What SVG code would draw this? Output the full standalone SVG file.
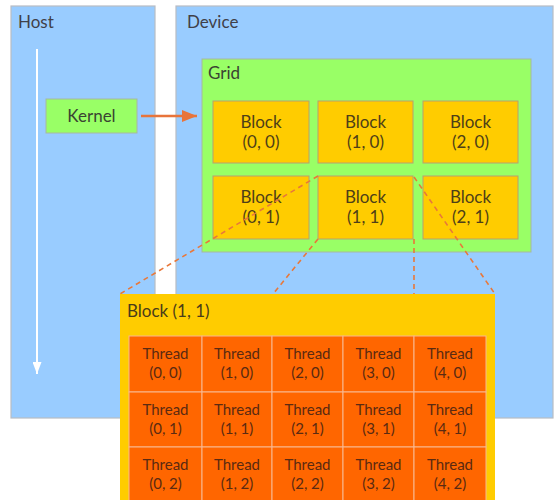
<svg xmlns="http://www.w3.org/2000/svg" width="560" height="500" viewBox="0 0 560 500">
<defs>
<style>
.panel{fill:#99CCFF;stroke:#B8BCC4;stroke-width:1.2}
.grid{fill:#99FF66;stroke:#A8B8A0;stroke-width:1}
.blk{fill:#FFCC00;stroke:#B8A070;stroke-width:1}
.thr{fill:#FF6600;stroke:#F8B890;stroke-width:1}
.lbl{font-family:Lato,"Open Sans",sans-serif;font-size:17px;fill:#404048}
.bt{font-family:Lato,"Open Sans",sans-serif;font-size:17px;fill:#4E3F18;text-anchor:middle}
.tt{font-family:Lato,"Open Sans",sans-serif;font-size:15px;fill:#5A2A12;text-anchor:middle}
.dash{stroke:#E8783A;stroke-width:1.6;stroke-dasharray:5 4;fill:none}
</style>
<marker id="ah" viewBox="0 0 15 12" refX="15" refY="6" markerWidth="15" markerHeight="12" markerUnits="userSpaceOnUse" orient="auto">
<path d="M0,0 L15,6 L0,12 z" fill="#E8743B"/>
</marker>
<marker id="wh" viewBox="0 0 12 9" refX="12" refY="4.5" markerWidth="12" markerHeight="9" markerUnits="userSpaceOnUse" orient="auto">
<path d="M0,0 L12,4.5 L0,9 z" fill="#FFFFFF"/>
</marker>
</defs>
<rect width="560" height="500" fill="#FFFFFF"/>
<g id="host">
<rect class="panel" x="11" y="6" width="144" height="412"/>
<text class="lbl" x="18" y="28">Host</text>
<line x1="37" y1="49" x2="37" y2="374" stroke="#FFFFFF" stroke-width="2" marker-end="url(#wh)"/>
</g>
<g id="device">
<rect class="panel" x="176" y="6" width="377" height="412"/>
<text class="lbl" x="187" y="28">Device</text>
</g>
<g id="kernel">
<rect class="grid" x="46" y="99" width="91" height="34"/>
<text class="lbl" x="91.5" y="122" text-anchor="middle" style="fill:#3A4432">Kernel</text>
</g>
<g id="grid">
<rect class="grid" x="202" y="59" width="329" height="193"/>
<text class="lbl" x="208" y="79" style="fill:#3A4432">Grid</text>
</g>
<g id="block00"><rect class="blk" x="213" y="101" width="96" height="62"/><text class="bt" x="261" y="128">Block</text><text class="bt" x="261" y="148">(0, 0)</text></g>
<g id="block10"><rect class="blk" x="318" y="101" width="95" height="62"/><text class="bt" x="365.5" y="128">Block</text><text class="bt" x="365.5" y="148">(1, 0)</text></g>
<g id="block20"><rect class="blk" x="423" y="101" width="95" height="62"/><text class="bt" x="470.5" y="128">Block</text><text class="bt" x="470.5" y="148">(2, 0)</text></g>
<g id="block01"><rect class="blk" x="213" y="176" width="96" height="63"/><text class="bt" x="261" y="203">Block</text><text class="bt" x="261" y="223">(0, 1)</text></g>
<g id="block11"><rect class="blk" x="318" y="176" width="95" height="63"/><text class="bt" x="365.5" y="203">Block</text><text class="bt" x="365.5" y="223">(1, 1)</text></g>
<g id="block21"><rect class="blk" x="423" y="176" width="95" height="63"/><text class="bt" x="470.5" y="203">Block</text><text class="bt" x="470.5" y="223">(2, 1)</text></g>
<g id="connectors">
<line x1="141" y1="116" x2="197" y2="116" stroke="#E8743B" stroke-width="2.5" marker-end="url(#ah)"/>
<line class="dash" x1="318" y1="176" x2="120" y2="294"/>
<line class="dash" x1="318" y1="239" x2="273" y2="294"/>
<line class="dash" x1="414" y1="239" x2="414" y2="294"/>
<line class="dash" x1="414" y1="177" x2="495" y2="294"/>
</g>
<g id="blockDetail">
<rect x="120" y="294" width="375" height="220" fill="#FFCC00"/>
<text class="lbl" x="127" y="317" style="fill:#4A3C1A">Block (1, 1)</text>
</g>
<g id="threads">
<g id="t00"><rect class="thr" x="129" y="336" width="73" height="56"/><text class="tt" x="165.5" y="359">Thread</text><text class="tt" x="165.5" y="378">(0, 0)</text></g>
<g id="t10"><rect class="thr" x="202" y="336" width="70" height="56"/><text class="tt" x="237" y="359">Thread</text><text class="tt" x="237" y="378">(1, 0)</text></g>
<g id="t20"><rect class="thr" x="272" y="336" width="71" height="56"/><text class="tt" x="307.5" y="359">Thread</text><text class="tt" x="307.5" y="378">(2, 0)</text></g>
<g id="t30"><rect class="thr" x="343" y="336" width="71" height="56"/><text class="tt" x="378.5" y="359">Thread</text><text class="tt" x="378.5" y="378">(3, 0)</text></g>
<g id="t40"><rect class="thr" x="414" y="336" width="72" height="56"/><text class="tt" x="450" y="359">Thread</text><text class="tt" x="450" y="378">(4, 0)</text></g>
<g id="t01"><rect class="thr" x="129" y="392" width="73" height="55"/><text class="tt" x="165.5" y="415">Thread</text><text class="tt" x="165.5" y="434">(0, 1)</text></g>
<g id="t11"><rect class="thr" x="202" y="392" width="70" height="55"/><text class="tt" x="237" y="415">Thread</text><text class="tt" x="237" y="434">(1, 1)</text></g>
<g id="t21"><rect class="thr" x="272" y="392" width="71" height="55"/><text class="tt" x="307.5" y="415">Thread</text><text class="tt" x="307.5" y="434">(2, 1)</text></g>
<g id="t31"><rect class="thr" x="343" y="392" width="71" height="55"/><text class="tt" x="378.5" y="415">Thread</text><text class="tt" x="378.5" y="434">(3, 1)</text></g>
<g id="t41"><rect class="thr" x="414" y="392" width="72" height="55"/><text class="tt" x="450" y="415">Thread</text><text class="tt" x="450" y="434">(4, 1)</text></g>
<g id="t02"><rect class="thr" x="129" y="447" width="73" height="56"/><text class="tt" x="165.5" y="470">Thread</text><text class="tt" x="165.5" y="489">(0, 2)</text></g>
<g id="t12"><rect class="thr" x="202" y="447" width="70" height="56"/><text class="tt" x="237" y="470">Thread</text><text class="tt" x="237" y="489">(1, 2)</text></g>
<g id="t22"><rect class="thr" x="272" y="447" width="71" height="56"/><text class="tt" x="307.5" y="470">Thread</text><text class="tt" x="307.5" y="489">(2, 2)</text></g>
<g id="t32"><rect class="thr" x="343" y="447" width="71" height="56"/><text class="tt" x="378.5" y="470">Thread</text><text class="tt" x="378.5" y="489">(3, 2)</text></g>
<g id="t42"><rect class="thr" x="414" y="447" width="72" height="56"/><text class="tt" x="450" y="470">Thread</text><text class="tt" x="450" y="489">(4, 2)</text></g>
</g>
</svg>
